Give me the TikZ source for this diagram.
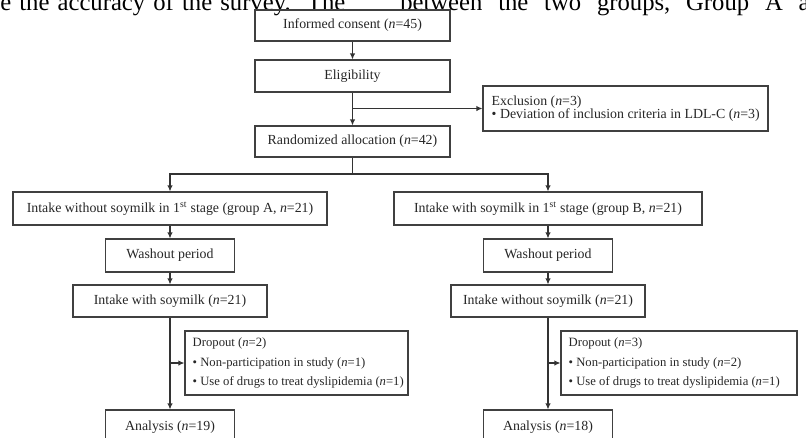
\documentclass[tikz,border=0pt]{standalone}
\usepackage{fontspec}
\setmainfont{Liberation Serif}
\usetikzlibrary{arrows.meta}
\begin{document}
\begin{tikzpicture}[x=0.75pt,y=-0.75pt,
  box/.style 2 args={draw=black!75, line width=0.8pt, minimum width=#1*0.75pt,
    minimum height=#2*0.75pt, inner sep=0pt, text=black!85,
    font=\fontsize{10.4}{12}\selectfont},
  boxtext/.style={anchor=west, inner sep=0pt, align=left, text=black!85,
    font=\fontsize{9.5}{12}\selectfont},
  arr/.style={draw=black!80, line width=0.8pt, -{Latex[length=4.5pt,width=4pt]}},
  ln/.style={draw=black!80, line width=0.8pt},
  body/.style={inner sep=0pt, text=black, font=\fontsize{18.5}{18.5}\selectfont}]
\useasboundingbox (0,0) rectangle (806,437);
\clip (0,0) rectangle (806,437);
% cropped body text above the figure
\node[body, anchor=base west] (t1) at (0,10) {\hbox to 258.75pt{e\hfill the\hfill accuracy\hfill of\hfill the\hfill survey.\hfill\hfill The}};
\node[body, anchor=base west] (t2) at (400,10) {\hbox to 307pt{between\hfill the\hfill two\hfill groups,\hfill Group\hfill A\hfill a}};
% boxes
\node[box={195}{31}] (consent) at (352.5,25.5) {Informed consent (\textit{n}=45)};
\node[box={195}{32}] (elig) at (352.5,76) {Eligibility};
\node[box={285}{45}] (excl) at (625.5,108.5) {};
\node[boxtext, font=\fontsize{10.4}{9.75}\selectfont] (exclt) at ([xshift=6.75pt]excl.west)
  {Exclusion (\textit{n}=3)\\\textbullet{} Deviation of inclusion criteria in LDL-C (\textit{n}=3)};
\node[box={195}{31}] (rand) at (352.5,141.5) {Randomized allocation (\textit{n}=42)};
\node[box={314}{33}] (A1) at (170,208.5) {Intake without soymilk in 1\textsuperscript{st} stage (group A, \textit{n}=21)};
\node[box={308}{33}] (B1) at (548,208.5) {Intake with soymilk in 1\textsuperscript{st} stage (group B, \textit{n}=21)};
\node[box={129}{33}] (WA) at (170,255.5) {Washout period};
\node[box={129}{33}] (WB) at (548,255.5) {Washout period};
\node[box={194}{32}] (A2) at (170,301) {Intake with soymilk (\textit{n}=21)};
\node[box={194}{32}] (B2) at (548,301) {Intake without soymilk (\textit{n}=21)};
\node[box={223}{64}] (dropA) at (296.5,363) {};
\node[boxtext] (dropAt) at ([xshift=6pt]dropA.west)
  {Dropout (\textit{n}=2)\\[2.5pt]\textbullet{} Non-participation in study (\textit{n}=1)\\[2.5pt]\textbullet{} Use of drugs to treat dyslipidemia (\textit{n}=1)};
\node[box={236}{64}] (dropB) at (679,363) {};
\node[boxtext] (dropBt) at ([xshift=6pt]dropB.west)
  {Dropout (\textit{n}=3)\\[2.5pt]\textbullet{} Non-participation in study (\textit{n}=2)\\[2.5pt]\textbullet{} Use of drugs to treat dyslipidemia (\textit{n}=1)};
\node[box={129}{34}] (AnA) at (170,427) {Analysis (\textit{n}=19)};
\node[box={129}{34}] (AnB) at (548,427) {Analysis (\textit{n}=18)};
% connectors
\draw[arr] (consent) -- (elig);
\draw[arr] (elig) -- (rand);
\coordinate (ex) at (elig.south |- excl.west);
\draw[arr] (ex) -- (excl.west);
\coordinate (split) at (352.5,174);
\draw[ln] (rand.south) -- (split);
\draw[arr] (split) -| (A1.north);
\draw[arr] (split) -| (B1.north);
\draw[arr] (A1) -- (WA);
\draw[arr] (WA) -- (A2);
\draw[arr] (A2) -- (AnA);
\draw[arr] (B1) -- (WB);
\draw[arr] (WB) -- (B2);
\draw[arr] (B2) -- (AnB);
\coordinate (dA) at (A2.south |- dropA.west);
\draw[arr] (dA) -- (dropA.west);
\coordinate (dB) at (B2.south |- dropB.west);
\draw[arr] (dB) -- (dropB.west);
\end{tikzpicture}
\end{document}
